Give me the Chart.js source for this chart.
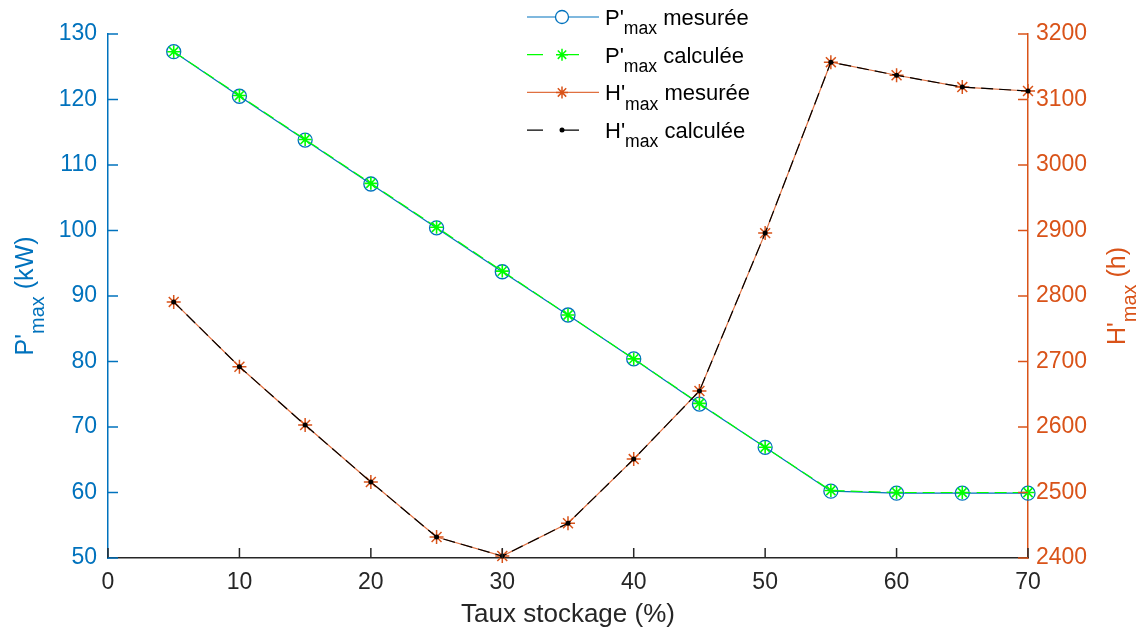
<!DOCTYPE html>
<html lang="fr">
  <head>
    <meta charset="UTF-8" />
    <title>P'max et H'max</title>
    <script src="https://cdn.jsdelivr.net/npm/chart.js@4.4.1/dist/chart.umd.min.js"></script>
    <style>
      body { margin: 0; background: #fff; }
      #chart { display: block; }
    </style>
  </head>
  <body>
    <canvas id="chart" width="1141" height="631"></canvas>
    <script>
      // taux de stockage (%)
      const taux = [5, 10, 15, 20, 25, 30, 35, 40, 45, 50, 55, 60, 65, 70];
      // P'max (kW)
      const pMesuree = [127.3, 120.5, 113.8, 107.1, 100.4, 93.7, 87.1, 80.4, 73.5, 66.9, 60.2, 59.9, 59.9, 59.9];
      const pCalculee = [127.3, 120.6, 113.9, 107.2, 100.5, 93.8, 87.1, 80.4, 73.6, 66.9, 60.3, 60.0, 60.0, 60.0];
      // H'max (h)
      const hMesuree = [2791, 2692, 2603, 2516, 2432, 2403, 2453, 2551, 2655, 2896, 3157, 3137, 3119, 3113];
      const hCalculee = [2791, 2692, 2603, 2516, 2432, 2403, 2453, 2551, 2655, 2896, 3157, 3137, 3119, 3113];

      const xTicks = [0, 10, 20, 30, 40, 50, 60, 70];
      const leftTicks = [50, 60, 70, 80, 90, 100, 110, 120, 130];
      const rightTicks = [2400, 2500, 2600, 2700, 2800, 2900, 3000, 3100, 3200];

      const BLUE = "#0072BD";
      const ORANGE = "#D95319";
      const GREEN = "#00FF00";
      const DARK = "#262626";
      const FONT = "'Liberation Sans', Arial, sans-serif";

      const pts = (xs, ys) => xs.map((x, i) => ({ x: x, y: ys[i] }));

      // draw text with subscripts: parts = [[text, isSub], ...]
      function drawParts(ctx, parts, x, y, size, color) {
        ctx.fillStyle = color;
        ctx.textBaseline = "alphabetic";
        ctx.textAlign = "left";
        let cx = x;
        parts.forEach(([t, sub]) => {
          ctx.font = (sub ? size * 0.8 : size) + "px " + FONT;
          ctx.fillText(t, cx, sub ? y + size * 0.42 : y);
          cx += ctx.measureText(t).width;
        });
        return cx - x;
      }
      function partsWidth(ctx, parts, size) {
        let w = 0;
        parts.forEach(([t, sub]) => {
          ctx.font = (sub ? size * 0.8 : size) + "px " + FONT;
          w += ctx.measureText(t).width;
        });
        return w;
      }

      const decorPlugin = {
        id: "decor",
        afterDraw(chart) {
          const ctx = chart.ctx;
          const xs = chart.scales.x, yl = chart.scales.y, yr = chart.scales.y2;
          const a = chart.chartArea;
          ctx.save();
          // inward ticks
          ctx.lineWidth = 1.5;
          ctx.strokeStyle = DARK;
          xTicks.forEach((v) => {
            const px = xs.getPixelForValue(v);
            ctx.beginPath(); ctx.moveTo(px, a.bottom); ctx.lineTo(px, a.bottom - 10); ctx.stroke();
          });
          ctx.strokeStyle = BLUE;
          leftTicks.forEach((v) => {
            const py = yl.getPixelForValue(v);
            ctx.beginPath(); ctx.moveTo(a.left, py); ctx.lineTo(a.left + 10, py); ctx.stroke();
          });
          ctx.strokeStyle = ORANGE;
          rightTicks.forEach((v) => {
            const py = yr.getPixelForValue(v);
            ctx.beginPath(); ctx.moveTo(a.right, py); ctx.lineTo(a.right - 10, py); ctx.stroke();
          });

          // axis titles
          ctx.fillStyle = DARK;
          ctx.font = "26px " + FONT;
          ctx.textAlign = "center";
          ctx.textBaseline = "alphabetic";
          ctx.fillText("Taux stockage (%)", 568, 622);

          const leftTitle = [["P'", false], ["max", true], [" (kW)", false]];
          ctx.save();
          ctx.translate(33, 296);
          ctx.rotate(-Math.PI / 2);
          drawParts(ctx, leftTitle, -partsWidth(ctx, leftTitle, 25) / 2, 0, 25, BLUE);
          ctx.restore();

          const rightTitle = [["H'", false], ["max", true], [" (h)", false]];
          ctx.save();
          ctx.translate(1125, 296);
          ctx.rotate(-Math.PI / 2);
          drawParts(ctx, rightTitle, -partsWidth(ctx, rightTitle, 25) / 2, 0, 25, ORANGE);
          ctx.restore();

          // legend
          const rows = [
            { name: "P'", txt: " mesurée", color: BLUE, dash: [], marker: "circle" },
            { name: "P'", txt: " calculée", color: GREEN, dash: [16, 20], marker: "star" },
            { name: "H'", txt: " mesurée", color: "#E07040", dash: [], marker: "starO" },
            { name: "H'", txt: " calculée", color: "#000", dash: [16, 20], marker: "dot" },
          ];
          rows.forEach((r, i) => {
            const y = 17 + i * 37.7;
            ctx.strokeStyle = r.color;
            ctx.lineWidth = 1.2;
            ctx.setLineDash(r.dash);
            ctx.beginPath(); ctx.moveTo(527, y); ctx.lineTo(599, y); ctx.stroke();
            ctx.setLineDash([]);
            const mx = 562;
            if (r.marker === "circle") {
              ctx.strokeStyle = BLUE; ctx.lineWidth = 1.3;
              ctx.fillStyle = "#fff";
              ctx.beginPath(); ctx.arc(mx, y, 6.5, 0, Math.PI * 2); ctx.fill(); ctx.stroke();
            } else if (r.marker === "star" || r.marker === "starO") {
              ctx.strokeStyle = r.marker === "star" ? GREEN : ORANGE; ctx.lineWidth = 1.5;
              const s = 6;
              ctx.beginPath();
              ctx.moveTo(mx - s, y); ctx.lineTo(mx + s, y);
              ctx.moveTo(mx, y - s); ctx.lineTo(mx, y + s);
              ctx.moveTo(mx - s * 0.7, y - s * 0.7); ctx.lineTo(mx + s * 0.7, y + s * 0.7);
              ctx.moveTo(mx - s * 0.7, y + s * 0.7); ctx.lineTo(mx + s * 0.7, y - s * 0.7);
              ctx.stroke();
            } else {
              ctx.fillStyle = "#000";
              ctx.beginPath(); ctx.arc(mx, y, 2.5, 0, Math.PI * 2); ctx.fill();
            }
            drawParts(ctx, [[r.name, false], ["max", true], [r.txt, false]], 605, y + 8, 22, "#000");
          });
          ctx.restore();
        },
      };

      const plain = (v) => String(v);

      new Chart("chart", {
        type: "line",
        data: {
          datasets: [
            {
              label: "H'max calculée",
              data: pts(taux, hCalculee),
              yAxisID: "y2",
              borderColor: "#000",
              borderWidth: 1.2,
              borderDash: [12, 6],
              pointStyle: "circle",
              pointRadius: 2.5,
              pointBackgroundColor: "#000",
              pointBorderWidth: 0,
              order: 0,
            },
            {
              label: "H'max mesurée",
              data: pts(taux, hMesuree),
              yAxisID: "y2",
              borderColor: "#E07040",
              borderWidth: 1.2,
              pointStyle: "star",
              pointRadius: 7,
              pointBorderColor: ORANGE,
              pointBorderWidth: 1.5,
              order: 1,
            },
            {
              label: "P'max calculée",
              data: pts(taux, pCalculee),
              yAxisID: "y",
              borderColor: GREEN,
              borderWidth: 1.2,
              borderDash: [12, 6],
              pointStyle: "star",
              pointRadius: 6.5,
              pointBorderColor: GREEN,
              pointBorderWidth: 1.6,
              order: 2,
            },
            {
              label: "P'max mesurée",
              data: pts(taux, pMesuree),
              yAxisID: "y",
              borderColor: BLUE,
              borderWidth: 1.2,
              pointStyle: "circle",
              pointRadius: 7,
              pointBorderColor: BLUE,
              pointBackgroundColor: "rgba(0,0,0,0)",
              pointBorderWidth: 1.3,
              order: 3,
            },
          ],
        },
        options: {
          responsive: false,
          animation: false,
          clip: false,
          layout: { padding: { top: 34, left: 0, right: 0, bottom: 0 } },
          plugins: { legend: { display: false }, tooltip: { enabled: false } },
          elements: { line: { tension: 0, fill: false } },
          scales: {
            x: {
              type: "linear",
              min: 0,
              max: 70,
              afterFit: (s) => { s.height = 73; },
              afterBuildTicks: (s) => { s.ticks = xTicks.map((v) => ({ value: v })); },
              grid: { display: false, drawTicks: false },
              border: { display: true, color: DARK, width: 1.5 },
              ticks: { color: DARK, font: { family: FONT, size: 23 }, padding: 11, callback: plain },
            },
            y: {
              type: "linear",
              position: "left",
              min: 50,
              max: 130,
              afterFit: (s) => { s.width = 108; },
              afterBuildTicks: (s) => { s.ticks = leftTicks.map((v) => ({ value: v })); },
              grid: { display: false, drawTicks: false },
              border: { display: true, color: BLUE, width: 1.5 },
              ticks: { color: BLUE, font: { family: FONT, size: 23 }, padding: 11, callback: plain },
            },
            y2: {
              type: "linear",
              position: "right",
              min: 2400,
              max: 3200,
              afterFit: (s) => { s.width = 113; },
              afterBuildTicks: (s) => { s.ticks = rightTicks.map((v) => ({ value: v })); },
              grid: { display: false, drawTicks: false },
              border: { display: true, color: ORANGE, width: 1.5 },
              ticks: { color: ORANGE, font: { family: FONT, size: 23 }, padding: 8, callback: plain },
            },
          },
        },
        plugins: [decorPlugin],
      });
    </script>
  </body>
</html>
